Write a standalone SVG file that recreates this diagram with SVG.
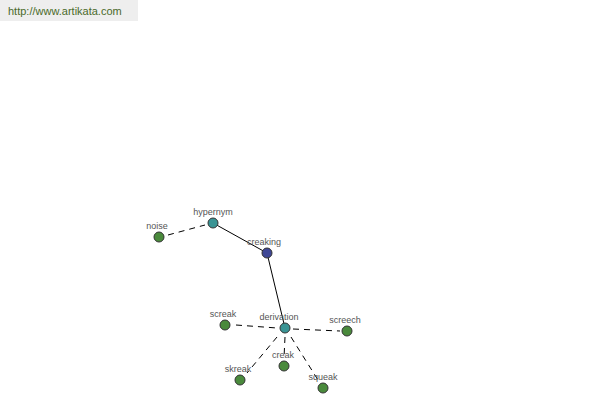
<svg xmlns="http://www.w3.org/2000/svg" width="600" height="400" viewBox="0 0 600 400">
<style>
.lbl{font-family:"Liberation Sans",Arial,sans-serif;font-size:9px;fill:#555;text-anchor:middle}
.n circle{stroke:#333;stroke-width:1}
.g{fill:#4a8a3c}.t{fill:#3a9494}.b{fill:#3f4796}
.solid{stroke:#000;stroke-width:1;fill:none}
.dash{stroke:#000;stroke-width:1;fill:none;stroke-dasharray:6,5}
</style>
<rect x="0" y="0" width="138" height="21" fill="#eeeeee"/>
<text x="8" y="15" style="font-family:'Liberation Sans',Arial,sans-serif;font-size:11px;fill:#4a6a2a">http://www.artikata.com</text>
<g id="connectors">
<line class="dash" x1="168" y1="235" x2="205" y2="225"/>
<line class="solid" x1="213" y1="223" x2="267" y2="253"/>
<line class="solid" x1="267" y1="253" x2="285" y2="328"/>
<line class="dash" x1="236" y1="325" x2="277" y2="328"/>
<line class="dash" x1="293" y1="329" x2="340" y2="331"/>
<line class="dash" x1="277" y1="337" x2="247" y2="373"/>
<line class="dash" x1="285" y1="337" x2="284" y2="358"/>
<line class="dash" x1="291" y1="337" x2="318" y2="380"/>
</g>
<g id="noise" class="n"><circle class="g" cx="159" cy="237" r="5"/><text class="lbl" x="157" y="229">noise</text></g>
<g id="hypernym" class="n"><circle class="t" cx="213" cy="223" r="5"/><text class="lbl" x="213" y="215">hypernym</text></g>
<g id="creaking" class="n"><circle class="b" cx="267" cy="253" r="5"/><text class="lbl" x="264" y="245">creaking</text></g>
<g id="derivation" class="n"><circle class="t" cx="285" cy="328" r="5"/><text class="lbl" x="279" y="320">derivation</text></g>
<g id="screak" class="n"><circle class="g" cx="225" cy="325" r="5"/><text class="lbl" x="223" y="317">screak</text></g>
<g id="screech" class="n"><circle class="g" cx="347" cy="331" r="5"/><text class="lbl" x="345" y="323">screech</text></g>
<g id="skreak" class="n"><circle class="g" cx="240" cy="380" r="5"/><text class="lbl" x="238" y="372">skreak</text></g>
<g id="creak" class="n"><circle class="g" cx="284" cy="366" r="5"/><text class="lbl" x="283" y="358">creak</text></g>
<g id="squeak" class="n"><circle class="g" cx="323" cy="388" r="5"/><text class="lbl" x="323" y="380">squeak</text></g>
</svg>
